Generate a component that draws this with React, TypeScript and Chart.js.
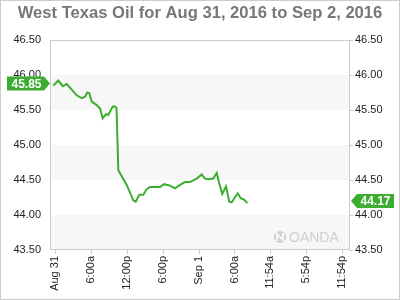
import React, { useEffect, useRef } from "react";
import { Chart, registerables } from "chart.js";

Chart.register(...registerables);

const titleText = "West Texas Oil for Aug 31, 2016 to Sep 2, 2016";

// hours since Aug 31 00:00
const hours = [
  -0.28, 0.55, 1.28, 1.95, 2.78, 3.62, 4.45, 5.0, 5.38, 5.72, 6.12, 6.95, 7.5, 7.95, 8.5, 8.88,
  9.62, 10.0, 10.25, 10.55, 11.95, 13.05, 13.45, 14.05, 14.72, 15.28, 15.83, 17.5, 18.17, 19.17,
  20.0, 20.83, 21.67, 22.5, 23.62, 24.45, 25.0, 25.55, 26.38, 26.95, 27.38, 27.88, 28.05, 28.5,
  29.05, 29.45, 30.45, 30.95, 31.5, 32.05,
];
const prices = [
  45.85, 45.92, 45.84, 45.87, 45.79, 45.71, 45.67, 45.69, 45.75, 45.74, 45.62, 45.57, 45.52, 45.38,
  45.44, 45.43, 45.55, 45.55, 45.53, 44.64, 44.43, 44.21, 44.19, 44.29, 44.29, 44.37, 44.4, 44.4,
  44.44, 44.42, 44.38, 44.43, 44.47, 44.47, 44.52, 44.58, 44.52, 44.51, 44.52, 44.6, 44.45, 44.3,
  44.33, 44.41, 44.19, 44.18, 44.31, 44.24, 44.22, 44.17,
];

const tickHours = [0, 6, 12, 18, 24, 30, 35.9, 41.9, 47.9];
const tickLabels = ["Aug 31", "6:00a", "12:00p", "6:00p", "Sep 1", "6:00a", "11:54a", "5:54p", "11:54p"];

const xMin = -0.67;
const xMax = 49.17;
const yMin = 43.5;
const yMax = 46.5;
const yStep = 0.5;

const FONT = "Arial, 'Liberation Sans', sans-serif";
const GREEN = "#3cad2e";

const decorPlugin = {
  id: "decor",
  beforeDatasetsDraw(chart: any) {
    const { ctx, chartArea } = chart;
    const ys = chart.scales.y;
    ctx.save();
    // alternating bands
    let i = 0;
    for (let v = yMin; v < yMax - 1e-9; v += yStep, i++) {
      if (i % 2 === 0) {
        const top = ys.getPixelForValue(v + yStep);
        const bot = ys.getPixelForValue(v);
        ctx.fillStyle = "#f7f7f7";
        ctx.fillRect(chartArea.left, top, chartArea.right - chartArea.left, bot - top);
      }
    }
    // watermark
    const wx = chartArea.right - 70;
    const wy = chartArea.bottom - 13;
    ctx.fillStyle = "#cfcfcf";
    ctx.beginPath();
    ctx.arc(wx, wy, 6, 0, Math.PI * 2);
    ctx.fill();
    ctx.strokeStyle = "#f7f7f7";
    ctx.lineWidth = 2;
    ctx.beginPath();
    ctx.moveTo(wx - 3, wy + 4);
    ctx.lineTo(wx - 3, wy - 3);
    ctx.lineTo(wx + 3, wy + 3);
    ctx.lineTo(wx + 3, wy - 4);
    ctx.stroke();
    ctx.fillStyle = "#cfcfcf";
    ctx.font = `14px ${FONT}`;
    ctx.textAlign = "left";
    ctx.textBaseline = "middle";
    ctx.fillText("OANDA", wx + 9, wy + 1);
    ctx.restore();
  },
  afterDraw(chart: any) {
    const { ctx, chartArea } = chart;
    const ys = chart.scales.y;
    ctx.save();
    // plot border
    ctx.strokeStyle = "#cccccc";
    ctx.lineWidth = 1;
    ctx.strokeRect(
      Math.round(chartArea.left) - 0.5,
      Math.round(chartArea.top) + 0.5,
      Math.round(chartArea.right - chartArea.left),
      Math.round(chartArea.bottom - chartArea.top) - 1
    );
    // outer border
    ctx.strokeStyle = "#cccccc";
    ctx.strokeRect(0.5, 0.5, chart.width - 1, chart.height - 1);
    // title
    ctx.fillStyle = "#777777";
    ctx.font = `bold 16.6px ${FONT}`;
    ctx.textAlign = "center";
    ctx.textBaseline = "alphabetic";
    ctx.fillText(titleText, chart.width / 2, 18);

    // value labels
    const first = prices[0];
    const last = prices[prices.length - 1];
    const drawTag = (val: number, side: "left" | "right") => {
      const y = ys.getPixelForValue(val) - 2;
      const h = 14;
      ctx.fillStyle = GREEN;
      ctx.beginPath();
      if (side === "left") {
        const x0 = 7;
        const x1 = chartArea.left - 7;
        ctx.moveTo(x0, y - h / 2);
        ctx.lineTo(x1, y - h / 2);
        ctx.lineTo(chartArea.left - 1, y);
        ctx.lineTo(x1, y + h / 2);
        ctx.lineTo(x0, y + h / 2);
      } else {
        const x0 = chartArea.right + 7;
        const x1 = chart.width - 6;
        ctx.moveTo(chartArea.right + 1, y);
        ctx.lineTo(x0, y - h / 2);
        ctx.lineTo(x1, y - h / 2);
        ctx.lineTo(x1, y + h / 2);
        ctx.lineTo(x0, y + h / 2);
      }
      ctx.closePath();
      ctx.fill();
      ctx.fillStyle = "#ffffff";
      ctx.font = `bold 12px ${FONT}`;
      ctx.textAlign = "center";
      ctx.textBaseline = "middle";
      const cx = side === "left" ? (7 + chartArea.left - 7) / 2 + 1 : (chartArea.right + 7 + chart.width - 6) / 2;
      ctx.fillText(val.toFixed(2), cx, y + 1);
    };
    drawTag(first, "left");
    drawTag(last, "right");
    ctx.restore();
  },
};

export default function App() {
  const ref = useRef<HTMLCanvasElement | null>(null);
  useEffect(() => {
    document.body.style.margin = "0";
    if (!ref.current) return;
    const data = hours.map((h, i) => ({ x: h, y: prices[i] }));
    const yTickFont = { family: FONT, size: 11 };
    const chart = new Chart(ref.current, {
      type: "line",
      data: {
        datasets: [
          {
            data,
            borderColor: GREEN,
            borderWidth: 2,
            pointRadius: 0,
            tension: 0,
            fill: false,
            yAxisID: "y",
          },
        ],
      },
      plugins: [decorPlugin],
      options: {
        animation: false,
        responsive: false,
        layout: { padding: { top: 40, left: 0, right: 0, bottom: 0 } },
        plugins: { legend: { display: false }, tooltip: { enabled: false }, title: { display: false } },
        scales: {
          x: {
            type: "linear",
            min: xMin,
            max: xMax,
            afterBuildTicks: (s: any) => {
              s.ticks = tickHours.map((v) => ({ value: v }));
            },
            afterFit: (s: any) => {
              s.height = 50;
            },
            ticks: {
              autoSkip: false,
              maxRotation: 90,
              minRotation: 90,
              padding: 2,
              color: "#222",
              font: yTickFont,
              callback: (v: any) => {
                const i = tickHours.indexOf(Number(v));
                return i >= 0 ? tickLabels[i] : "";
              },
            },
            grid: { drawOnChartArea: false, tickLength: 4, color: "#cccccc" },
            border: { display: false },
          },
          y: {
            position: "left",
            min: yMin,
            max: yMax,
            afterFit: (s: any) => {
              s.width = 51;
            },
            ticks: {
              stepSize: yStep,
              padding: 10,
              color: "#222",
              font: yTickFont,
              callback: (v: any) => Number(v).toFixed(2),
            },
            grid: { drawOnChartArea: false, drawTicks: false },
            border: { display: false },
          },
          y2: {
            position: "right",
            min: yMin,
            max: yMax,
            afterFit: (s: any) => {
              s.width = 50;
            },
            ticks: {
              stepSize: yStep,
              padding: 2,
              color: "#222",
              font: yTickFont,
              callback: (v: any) => Number(v).toFixed(2),
            },
            grid: { drawOnChartArea: false, tickLength: 3, color: "#cccccc" },
            border: { display: false },
          },
        },
      } as any,
    });
    return () => chart.destroy();
  }, []);
  return (
    <div style={{ position: "fixed", left: 0, top: 0, width: 400, height: 300 }}>
      <canvas ref={ref} width={400} height={300} />
    </div>
  );
}
